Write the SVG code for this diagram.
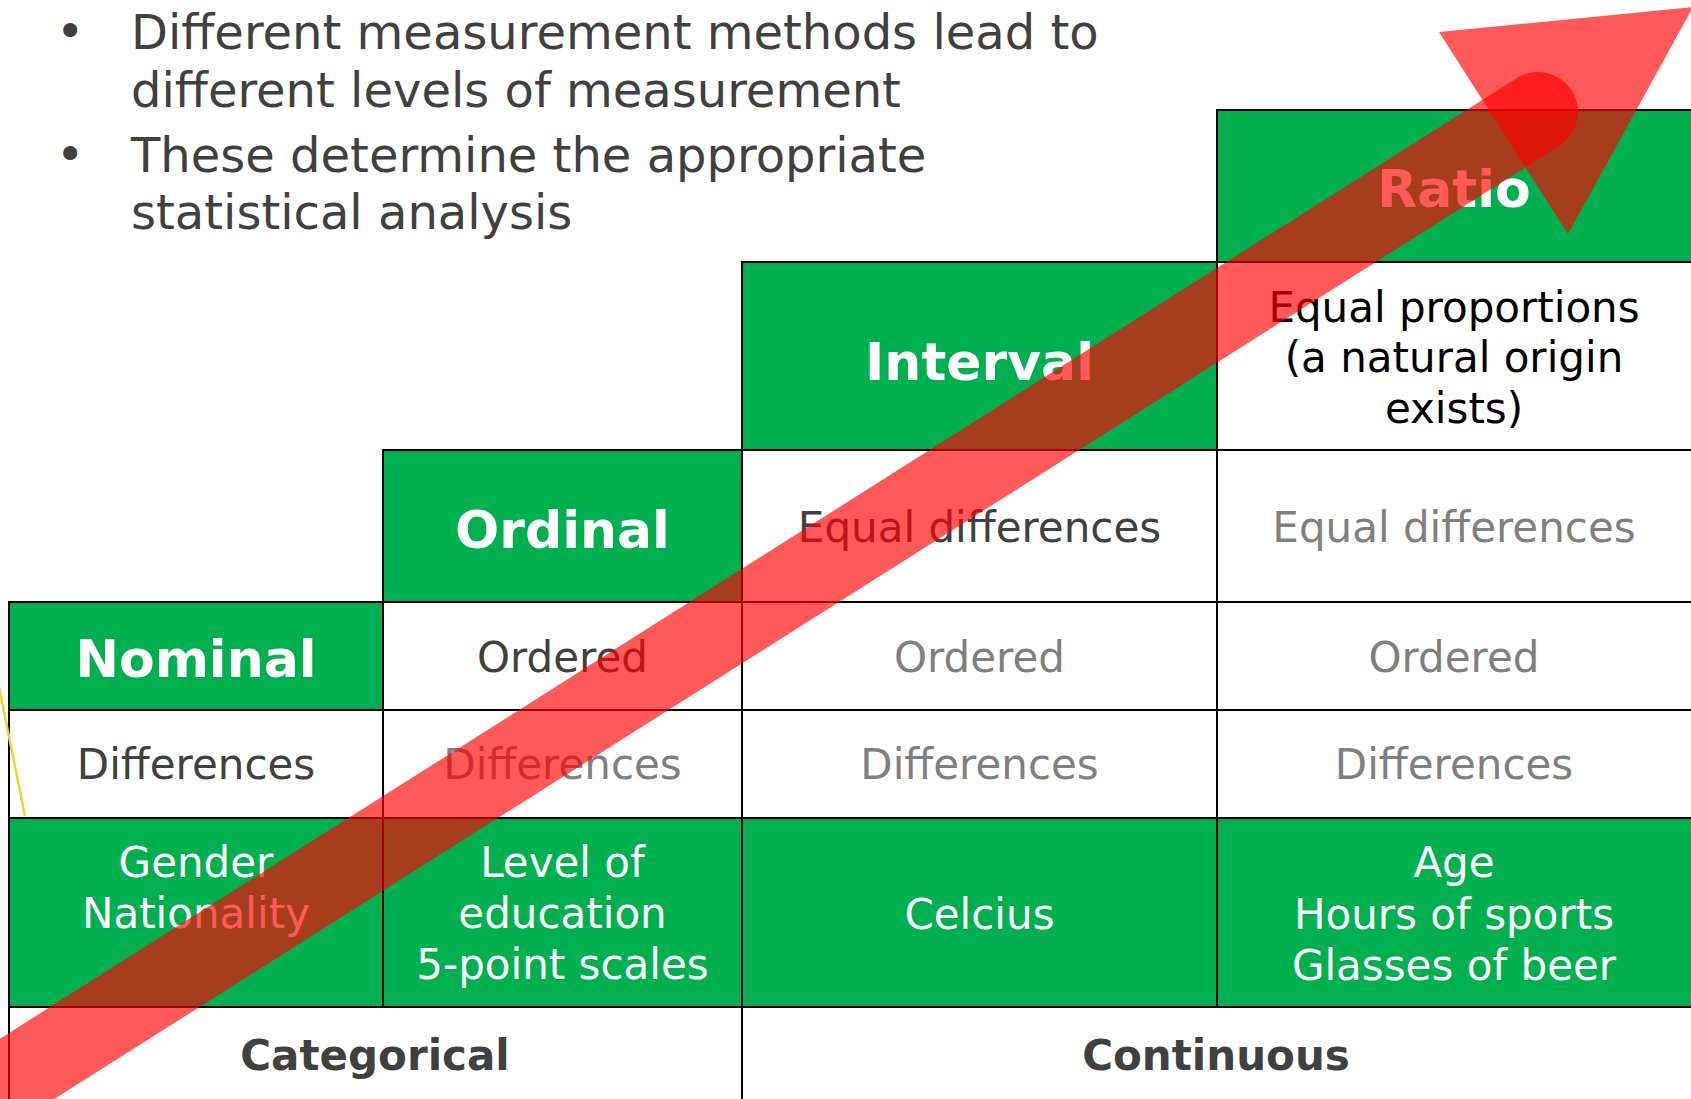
<svg xmlns="http://www.w3.org/2000/svg" width="1691" height="1099" viewBox="0 0 1691 1099">
<style>
text{font-family:"DejaVu Sans","Liberation Sans",sans-serif;text-anchor:middle}
.cell{stroke:#000;stroke-width:2}
.g{fill:#00B050}
.w{fill:#FFFFFF}
.hd{font-size:52px;font-weight:bold;fill:#FFFFFF}
.bd{font-size:42px}
.dk{fill:#404040}
.gy{fill:#7F7F7F}
.bk{fill:#000000}
.wt{fill:#FFFFFF}
.ft{font-size:42px;font-weight:bold;fill:#404040}
.bul{font-size:48px;fill:#404040;text-anchor:start}
.arr{fill:#FF0000;fill-opacity:0.65}
</style>
<rect x="0" y="0" width="1691" height="1099" fill="#FFFFFF"/>
<g id="bullets">
<text class="bul" x="56" y="48">•</text>
<text class="bul" x="131" y="49">Different measurement methods lead to</text>
<text class="bul" x="131" y="107">different levels of measurement</text>
<text class="bul" x="56" y="171">•</text>
<text class="bul" x="131" y="172">These determine the appropriate</text>
<text class="bul" x="131" y="229">statistical analysis</text>
</g>
<g id="ratio-header"><rect class="cell g" x="1217" y="110" width="476" height="152"/><text class="hd" x="1454" y="207">Ratio</text></g>
<g id="ratio-prop"><rect class="cell w" x="1217" y="262" width="476" height="188"/>
<text class="bd bk" x="1454" y="322">Equal proportions</text>
<text class="bd bk" x="1454" y="372">(a natural origin</text>
<text class="bd bk" x="1454" y="423">exists)</text></g>
<g id="interval-header"><rect class="cell g" x="742" y="262" width="475" height="188"/><text class="hd" x="979.5" y="380">Interval</text></g>
<g id="ordinal-header"><rect class="cell g" x="383" y="450" width="359" height="152"/><text class="hd" x="562.5" y="548">Ordinal</text></g>
<g id="interval-eqdiff"><rect class="cell w" x="742" y="450" width="475" height="152"/><text class="bd dk" x="979.5" y="542">Equal differences</text></g>
<g id="ratio-eqdiff"><rect class="cell w" x="1217" y="450" width="476" height="152"/><text class="bd gy" x="1454" y="542">Equal differences</text></g>
<g id="nominal-header"><rect class="cell g" x="9" y="602" width="374" height="108"/><text class="hd" x="196" y="677">Nominal</text></g>
<g id="ordinal-ordered"><rect class="cell w" x="383" y="602" width="359" height="108"/><text class="bd dk" x="562.5" y="672">Ordered</text></g>
<g id="interval-ordered"><rect class="cell w" x="742" y="602" width="475" height="108"/><text class="bd gy" x="979.5" y="672">Ordered</text></g>
<g id="ratio-ordered"><rect class="cell w" x="1217" y="602" width="476" height="108"/><text class="bd gy" x="1454" y="672">Ordered</text></g>
<g id="nominal-diff"><rect class="cell w" x="9" y="710" width="374" height="108"/><text class="bd dk" x="196" y="779">Differences</text></g>
<g id="ordinal-diff"><rect class="cell w" x="383" y="710" width="359" height="108"/><text class="bd gy" x="562.5" y="779">Differences</text></g>
<g id="interval-diff"><rect class="cell w" x="742" y="710" width="475" height="108"/><text class="bd gy" x="979.5" y="779">Differences</text></g>
<g id="ratio-diff"><rect class="cell w" x="1217" y="710" width="476" height="108"/><text class="bd gy" x="1454" y="779">Differences</text></g>
<g id="nominal-ex"><rect class="cell g" x="9" y="818" width="374" height="189"/>
<text class="bd wt" x="196" y="877">Gender</text><text class="bd wt" x="196" y="928">Nationality</text></g>
<g id="ordinal-ex"><rect class="cell g" x="383" y="818" width="359" height="189"/>
<text class="bd wt" x="562.5" y="877">Level of</text><text class="bd wt" x="562.5" y="928">education</text><text class="bd wt" x="562.5" y="979">5-point scales</text></g>
<g id="interval-ex"><rect class="cell g" x="742" y="818" width="475" height="189"/><text class="bd wt" x="979.5" y="929">Celcius</text></g>
<g id="ratio-ex"><rect class="cell g" x="1217" y="818" width="476" height="189"/>
<text class="bd wt" x="1454" y="877">Age</text><text class="bd wt" x="1454" y="929">Hours of sports</text><text class="bd wt" x="1454" y="980">Glasses of beer</text></g>
<g id="categorical"><rect class="cell w" x="9" y="1007" width="733" height="100"/><text class="ft" x="375" y="1070">Categorical</text></g>
<g id="continuous"><rect class="cell w" x="742" y="1007" width="951" height="100"/><text class="ft" x="1216" y="1070">Continuous</text></g>
<line x1="-2" y1="682" x2="25" y2="816" stroke="#EDD530" stroke-width="2.5"/>
<g id="connectors">
<line x1="-150" y1="1181" x2="1538" y2="112" stroke="#FF0000" stroke-opacity="0.65" stroke-width="80" stroke-linecap="round"/>
<polygon class="arr" points="1439,32 1693,7 1568,234"/>
</g>
</svg>
